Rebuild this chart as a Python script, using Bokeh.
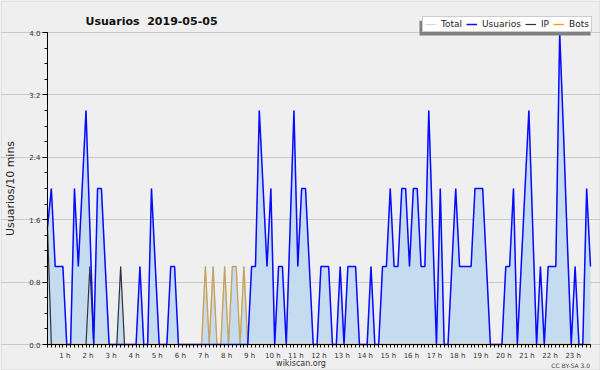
import math
from bokeh.plotting import figure
from bokeh.models import (Range1d, FixedTicker, Legend, LegendItem,
                          Label, BoxAnnotation, ColumnDataSource)
from bokeh.embed import file_html
from bokeh.resources import INLINE

# ---- data (10-minute intervals) ----
usuarios = [
    1.5, 2, 1, 1, 1, 0, 0, 2, 1, 2,
    3, 1.5, 0, 2, 2, 1, 0, 0, 0, 0,
    0, 0, 0, 0, 1, 0, 0, 2, 1, 0,
    0, 0, 1, 1, 0, 0, 0, 0, 0, 0,
    0, 0, 0, 0, 0, 0, 0, 0, 0, 0,
    0, 0, 0, 1, 1, 3, 2, 1, 2, 0,
    1, 1, 0, 1.5, 3, 1, 2, 2, 1, 0,
    0, 1, 1, 1, 0, 0, 1, 0, 1, 1,
    1, 0, 0, 0, 1, 0, 0, 1, 1, 2,
    1, 1, 2, 2, 1, 2, 2, 1, 1, 3,
    1.5, 0, 2, 0, 0, 1, 2, 1, 1, 1,
    1, 2, 2, 2, 1, 0, 0, 0, 0, 1,
    1, 2, 0, 1, 2, 3, 1.5, 0, 1, 0,
    1, 1, 1, 4, 2.7, 1.3, 0, 1, 0, 0,
    2, 1]

ip = [
    1.5, 0, 0, 0, 0, 0, 0, 0, 0, 0,
    0, 1, 0, 0, 0, 0, 0, 0, 0, 1,
    0, 0, 0, 0, 0, 0, 0, 0, 0, 0,
    0, 0, 0, 0, 0, 0, 0, 0, 0, 0,
    0, 0, 0, 0, 0, 0, 0, 0, 0, 0,
    0, 0, 0, 0, 0, 0, 0, 0, 0, 0,
    0, 0, 0, 0, 0, 0, 0, 0, 0, 0,
    0, 0, 0, 0, 0, 0, 0, 0, 0, 0,
    0, 0, 0, 0, 0, 0, 0, 0, 0, 0,
    0, 0, 0, 0, 0, 0, 0, 0, 0, 0,
    0, 0, 0, 0, 0, 0, 0, 0, 0, 0,
    0, 0, 0, 0, 0, 0, 0, 0, 0, 0,
    0, 0, 0, 0, 0, 0, 0, 0, 0, 0,
    0, 0, 0, 0, 0, 0, 0, 0, 0, 0,
    0, 0]

bots = [
    0, 0, 0, 0, 0, 0, 0, 0, 0, 0,
    0, 0, 0, 0, 0, 0, 0, 0, 0, 0,
    0, 0, 0, 0, 0, 0, 0, 0, 0, 0,
    0, 0, 0, 0, 0, 0, 0, 0, 0, 0,
    0, 1, 0, 1, 0, 0, 1, 0, 1, 1,
    0, 1, 0, 0, 0, 0, 0, 0, 0, 0,
    0, 0, 0, 0, 0, 0, 0, 0, 0, 0,
    0, 0, 0, 0, 0, 0, 0, 0, 0, 0,
    0, 0, 0, 0, 0, 0, 0, 0, 0, 0,
    0, 0, 0, 0, 0, 0, 0, 0, 0, 0,
    0, 0, 0, 0, 0, 0, 0, 0, 0, 0,
    0, 0, 0, 0, 0, 0, 0, 0, 0, 0,
    0, 0, 0, 0, 0, 0, 0, 0, 0, 0,
    0, 0, 0, 0, 0, 0, 0, 0, 0, 0,
    0, 0]

total = [
    1.5, 2, 1, 1, 1, 0, 0, 2, 1, 2,
    3, 1.5, 0, 2, 2, 1, 0, 0, 0, 1,
    0, 0, 0, 0, 1, 0, 0, 2, 1, 0,
    0, 0, 1, 1, 0, 0, 0, 0, 0, 0,
    0, 1, 0, 1, 0, 0, 1, 0, 1, 1,
    0, 1, 0, 1, 1, 3, 2, 1, 2, 0,
    1, 1, 0, 1.5, 3, 1, 2, 2, 1, 0,
    0, 1, 1, 1, 0, 0, 1, 0, 1, 1,
    1, 0, 0, 0, 1, 0, 0, 1, 1, 2,
    1, 1, 2, 2, 1, 2, 2, 1, 1, 3,
    1.5, 0, 2, 0, 0, 1, 2, 1, 1, 1,
    1, 2, 2, 2, 1, 0, 0, 0, 0, 1,
    1, 2, 0, 1, 2, 3, 1.5, 0, 1, 0,
    1, 1, 1, 4, 2.7, 1.3, 0, 1, 0, 0,
    2, 1]

hours = list(range(1, 24))
hour_labels = [f"{h} h" for h in hours]
y_ticks = [0.0, 0.8, 1.6, 2.4, 3.2, 4.0]
y_labels = ["0.0", "0.8", "1.6", "2.4", "3.2", "4.0"]

x = list(range(len(usuarios)))
x_max = len(usuarios) - 1
y_max = 4.0

# ---- layout: the frame covers the whole canvas; the data area sits at these pixels ----
W, H = 600, 370
PX_LEFT, PX_RIGHT, PX_TOP, PX_BOTTOM = 47, 590, 32, 344
kx = (PX_RIGHT - PX_LEFT) / x_max
ky = (PX_BOTTOM - PX_TOP) / y_max
x_start = -PX_LEFT / kx
x_end = x_start + W / kx
y_end = y_max + PX_TOP / ky
y_start = -(H - PX_BOTTOM) / ky

p = figure(width=W, height=H, output_backend="svg", toolbar_location=None, title=None,
           x_range=Range1d(x_start, x_end), y_range=Range1d(y_start, y_end),
           min_border=0, background_fill_color="#efefef", border_fill_color="#efefef")
p.outline_line_color = None

src = ColumnDataSource(dict(x=x, u=usuarios, ip=ip, bots=bots, total=total))
p.varea(x="x", y1=0, y2="total", source=src, fill_color="#c5dcf0")
r_bots = p.line("x", "bots", source=src, line_color="#ff9900", line_width=1.3)
r_total = p.line("x", "total", source=src, line_color="#66b2ff", line_width=1, line_alpha=0.45)
r_ip = p.line("x", "ip", source=src, line_color="#333333", line_width=1.2)
r_u = p.line("x", "u", source=src, line_color="#0a0aff", line_width=1.5)

# x axis, drawn at y = 0
xa = p.xaxis[0]
label_pos = [6 * h - 1.5 for h in hours]
xa.fixed_location = 0
xa.bounds = (0, x_max)
xa.ticker = FixedTicker(ticks=label_pos, minor_ticks=x)
xa.major_label_overrides = {pos: lab for pos, lab in zip(label_pos, hour_labels)}
xa.major_tick_out = 0
xa.major_tick_in = 0
xa.minor_tick_out = 3
xa.minor_tick_in = 0
xa.axis_line_color = "black"
xa.minor_tick_line_color = "black"
xa.major_label_text_font = "DejaVu Sans"
xa.major_label_text_font_size = "7px"
xa.major_label_text_color = "#333333"
xa.major_label_standoff = 4

# y axis, drawn at x = 0
ya = p.yaxis[0]
ya.fixed_location = 0
ya.bounds = (0, y_max)
ya.ticker = FixedTicker(ticks=y_ticks, minor_ticks=[round(0.2 * k, 1) for k in range(21)])
ya.major_label_overrides = {t: l for t, l in zip(y_ticks, y_labels)}
ya.major_tick_out = 5
ya.major_tick_in = 0
ya.minor_tick_out = 3
ya.minor_tick_in = 0
ya.axis_line_color = "black"
ya.major_tick_line_color = "black"
ya.minor_tick_line_color = "black"
ya.major_label_text_font = "DejaVu Sans"
ya.major_label_text_font_size = "7px"
ya.major_label_text_color = "#333333"
ya.major_label_standoff = 2

p.xgrid.visible = False
p.ygrid.grid_line_color = "#c9c9c9"
p.ygrid.bounds = (0, x_max)

# legend shadow + legend
p.add_layout(BoxAnnotation(left=419, right=590, top=20.3, bottom=35,
                           left_units="canvas", right_units="canvas",
                           top_units="canvas", bottom_units="canvas",
                           fill_color="#808080", fill_alpha=1, line_color=None))

legend = Legend(items=[LegendItem(label="Total", renderers=[r_total]),
                       LegendItem(label="Usuarios", renderers=[r_u]),
                       LegendItem(label="IP", renderers=[r_ip]),
                       LegendItem(label="Bots", renderers=[r_bots])],
                orientation="horizontal", location=(422, H - 32),
                background_fill_color="white", background_fill_alpha=1,
                border_line_color="#999999", border_line_width=1,
                label_text_font="DejaVu Sans", label_text_font_size="9px",
                label_text_color="#222222", glyph_width=11, glyph_height=10,
                label_width=0, label_height=10, label_standoff=5, spacing=4,
                padding=2, margin=0)
p.add_layout(legend)

# texts
p.add_layout(Label(x=85, y=20.5, x_units="canvas", y_units="canvas",
                   text="Usuarios\u00a0 2019-05-05", text_font="DejaVu Sans",
                   text_font_style="bold", text_font_size="11px", text_color="#111111",
                   text_baseline="alphabetic"))
p.add_layout(Label(x=10, y=188, x_units="canvas", y_units="canvas",
                   text="Usuarios/10 mins", text_font="DejaVu Sans", angle=math.pi / 2,
                   text_font_size="11px", text_color="#222222",
                   text_align="center", text_baseline="middle"))
p.add_layout(Label(x=300.5, y=363, x_units="canvas", y_units="canvas",
                   text="wikiscan.org", text_font="DejaVu Sans", text_font_size="8px",
                   text_color="#333333", text_align="center", text_baseline="alphabetic"))
p.add_layout(Label(x=589.5, y=365, x_units="canvas", y_units="canvas",
                   text="CC BY-SA 3.0", text_font="DejaVu Sans", text_font_size="6px",
                   text_color="#444444", text_align="right", text_baseline="alphabetic"))

# outer border
p.add_layout(BoxAnnotation(left=0.5, right=W - 0.5, top=0.5, bottom=H - 0.5, level="overlay",
                           left_units="canvas", right_units="canvas",
                           top_units="canvas", bottom_units="canvas",
                           fill_alpha=0, line_color="#aaaaaa", line_width=1))

open("out.html", "w").write(file_html(p, INLINE))
